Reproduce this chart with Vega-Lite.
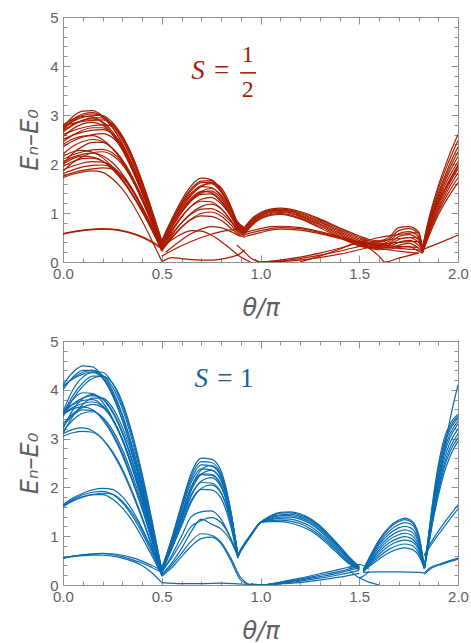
{
  "$schema": "https://vega.github.io/schema/vega-lite/v6.json",
  "background": "white",
  "padding": {"left": 18, "top": 9, "right": 10, "bottom": 4},
  "spacing": 12,
  "config": {
    "view": {"stroke": "#8f8f8f", "strokeWidth": 1},
    "axis": {
      "domain": false, "grid": false, "labelFlush": false, "labelOverlap": false,
      "labelFont": "Liberation Sans", "labelFontSize": 15, "labelColor": "#606060",
      "tickColor": "#8f8f8f", "tickWidth": 1,
      "titleFont": "DejaVu Sans", "titleFontSize": 24, "titleFontStyle": "italic",
      "titleFontWeight": "normal", "titleColor": "#606060"
    }
  },
  "datasets": {
    "half": [
      {"c":"a1","t":[0,0.05,0.1,0.15,0.2,0.25,0.3,0.35,0.4,0.45,0.5],"e":[2.75,2.97,3.08,3.09,2.98,2.76,2.42,2.00,1.50,0.95,0.38]},
      {"c":"a2","t":[0,0.05,0.1,0.15,0.2,0.25,0.3,0.35,0.4,0.45,0.5],"e":[2.80,2.92,2.99,3.02,2.98,2.80,2.49,2.07,1.57,1.00,0.40]},
      {"c":"a3","t":[0,0.05,0.1,0.15,0.2,0.25,0.3,0.35,0.4,0.45,0.5],"e":[2.70,2.88,2.97,2.96,2.84,2.61,2.29,1.88,1.41,0.90,0.36]},
      {"c":"a4","t":[0,0.05,0.1,0.15,0.2,0.25,0.3,0.35,0.4,0.45,0.5],"e":[2.65,2.79,2.89,2.94,2.94,2.80,2.52,2.12,1.61,1.03,0.42]},
      {"c":"a5","t":[0,0.05,0.1,0.15,0.2,0.25,0.3,0.35,0.4,0.45,0.5],"e":[2.78,2.83,2.87,2.89,2.90,2.82,2.57,2.17,1.65,1.05,0.40]},
      {"c":"a6","t":[0,0.05,0.1,0.15,0.2,0.25,0.3,0.35,0.4,0.45,0.5],"e":[2.55,2.72,2.82,2.85,2.79,2.60,2.30,1.90,1.43,0.90,0.34]},
      {"c":"a7","t":[0,0.05,0.1,0.15,0.2,0.25,0.3,0.35,0.4,0.45,0.5],"e":[2.45,2.59,2.69,2.74,2.74,2.61,2.35,1.97,1.50,0.96,0.38]},
      {"c":"a8","t":[0,0.05,0.1,0.15,0.2,0.25,0.3,0.35,0.4,0.45,0.5],"e":[2.60,2.68,2.74,2.78,2.80,2.77,2.55,2.17,1.63,0.99,0.30]},
      {"c":"a9","t":[0,0.05,0.1,0.15,0.2,0.25,0.3,0.35,0.4,0.45,0.5],"e":[2.35,2.47,2.55,2.60,2.62,2.54,2.31,1.95,1.47,0.92,0.32]},
      {"c":"a10","t":[0,0.05,0.1,0.15,0.2,0.25,0.3,0.35,0.4,0.45,0.5],"e":[2.20,2.36,2.46,2.50,2.46,2.32,2.07,1.73,1.31,0.85,0.36]},
      {"c":"a11","t":[0,0.05,0.1,0.15,0.2,0.25,0.3,0.35,0.4,0.45,0.5],"e":[2.15,2.25,2.28,2.24,2.13,1.94,1.69,1.39,1.05,0.67,0.28]},
      {"c":"a12","t":[0,0.05,0.1,0.15,0.2,0.25,0.3,0.35,0.4,0.45,0.5],"e":[2.05,2.14,2.20,2.22,2.17,2.03,1.80,1.50,1.13,0.73,0.30]},
      {"c":"a13","t":[0,0.05,0.1,0.15,0.2,0.25,0.3,0.35,0.4,0.45,0.5],"e":[2.10,2.19,2.25,2.29,2.30,2.23,2.03,1.70,1.28,0.79,0.26]},
      {"c":"a14","t":[0,0.05,0.1,0.15,0.2,0.25,0.3,0.35,0.4,0.45,0.5],"e":[1.95,2.05,2.11,2.12,2.06,1.91,1.68,1.39,1.04,0.65,0.25]},
      {"c":"a15","t":[0,0.05,0.1,0.15,0.2,0.25,0.3,0.35,0.4,0.45,0.5],"e":[1.88,1.96,2.02,2.05,2.04,1.95,1.75,1.47,1.11,0.71,0.28]},
      {"c":"a16","t":[0,0.05,0.1,0.15,0.2,0.25,0.3,0.35,0.4,0.45,0.5],"e":[1.80,1.88,1.94,1.97,1.98,1.92,1.74,1.46,1.10,0.68,0.22]},
      {"c":"a17","t":[0,0.05,0.1,0.15,0.2,0.25,0.3,0.35,0.4,0.45,0.5],"e":[1.75,1.82,1.87,1.90,1.92,1.90,1.75,1.49,1.13,0.71,0.24]},
      {"c":"a18","t":[0,0.05,0.1,0.15,0.2,0.25,0.3,0.35,0.4,0.45,0.5],"e":[1.72,1.79,1.84,1.86,1.83,1.70,1.49,1.20,0.84,0.44,0.02]},
      {"c":"a19","t":[0,0.05,0.1,0.15,0.2,0.25,0.3,0.35,0.4,0.45,0.5],"e":[2.00,2.22,2.36,2.44,2.44,2.32,2.09,1.75,1.33,0.85,0.33]},
      {"c":"a20","t":[0,0.05,0.1,0.15,0.2,0.25,0.3,0.35,0.4,0.45,0.5],"e":[1.85,2.03,2.15,2.23,2.25,2.18,1.99,1.68,1.28,0.81,0.30]},
      {"c":"a21","t":[0,0.05,0.1,0.15,0.2,0.25,0.3,0.35,0.4,0.45,0.5],"e":[2.72,2.91,3.02,3.05,2.96,2.74,2.42,1.99,1.49,0.93,0.35]},
      {"c":"a22","t":[0,0.05,0.1,0.15,0.2,0.25,0.3,0.35,0.4,0.45,0.5],"e":[2.50,2.59,2.65,2.69,2.70,2.62,2.38,1.99,1.49,0.91,0.28]},
      {"c":"a23","t":[0,0.05,0.1,0.15,0.2,0.25,0.3,0.35,0.4,0.45,0.5],"e":[2.68,2.81,2.89,2.92,2.86,2.66,2.36,1.94,1.45,0.91,0.33]},
      {"c":"a24","t":[0,0.05,0.1,0.15,0.2,0.25,0.3,0.35,0.4,0.45,0.5],"e":[2.40,2.51,2.57,2.58,2.50,2.32,2.05,1.69,1.26,0.79,0.30]},
      {"c":"a25","t":[0,0.05,0.1,0.15,0.2,0.25,0.3,0.35,0.4,0.45,0.5],"e":[2.00,2.11,2.16,2.14,2.06,1.89,1.66,1.37,1.03,0.66,0.27]},
      {"c":"a26","t":[0,0.05,0.1,0.15,0.2,0.25,0.3,0.35,0.4,0.45,0.5],"e":[2.76,2.87,2.95,2.99,2.99,2.85,2.57,2.16,1.65,1.06,0.44]},
      {"c":"al1","t":[0,0.05,0.1,0.15,0.2,0.25,0.3,0.35,0.4,0.45,0.5],"e":[0.58,0.62,0.65,0.67,0.68,0.67,0.64,0.59,0.52,0.42,0.30]},
      {"c":"al2","t":[0,0.05,0.1,0.15,0.2,0.25,0.3,0.35,0.4,0.45,0.5],"e":[0.57,0.61,0.64,0.66,0.67,0.66,0.63,0.58,0.50,0.40,0.27]},
      {"c":"b1","t":[0.5,0.55,0.6,0.65,0.7,0.75,0.8,0.85,0.88,0.92],"e":[0.40,0.86,1.26,1.56,1.71,1.68,1.47,1.10,0.84,0.70]},
      {"c":"b2","t":[0.5,0.55,0.6,0.65,0.7,0.75,0.8,0.85,0.88,0.92],"e":[0.38,0.81,1.18,1.46,1.62,1.63,1.44,1.08,0.81,0.67]},
      {"c":"b3","t":[0.5,0.55,0.6,0.65,0.7,0.75,0.8,0.85,0.88,0.92],"e":[0.36,0.76,1.12,1.39,1.56,1.60,1.43,1.07,0.79,0.65]},
      {"c":"b4","t":[0.5,0.55,0.6,0.65,0.7,0.75,0.8,0.85,0.88,0.92],"e":[0.42,0.81,1.16,1.41,1.54,1.52,1.34,1.03,0.81,0.69]},
      {"c":"b5","t":[0.5,0.55,0.6,0.65,0.7,0.75,0.8,0.85,0.88,0.92],"e":[0.34,0.70,1.02,1.28,1.44,1.50,1.37,1.04,0.77,0.63]},
      {"c":"b6","t":[0.5,0.55,0.6,0.65,0.7,0.75,0.8,0.85,0.88,0.92],"e":[0.30,0.70,1.05,1.31,1.44,1.42,1.25,0.97,0.77,0.65]},
      {"c":"b7","t":[0.5,0.55,0.6,0.65,0.7,0.75,0.8,0.85,0.88,0.92],"e":[0.35,0.70,1.01,1.25,1.38,1.39,1.23,0.94,0.72,0.60]},
      {"c":"b8","t":[0.5,0.55,0.6,0.65,0.7,0.75,0.8,0.85,0.88,0.92],"e":[0.28,0.61,0.91,1.14,1.28,1.32,1.19,0.93,0.73,0.61]},
      {"c":"b9","t":[0.5,0.55,0.6,0.65,0.7,0.75,0.8,0.85,0.88,0.92],"e":[0.32,0.64,0.93,1.14,1.24,1.23,1.09,0.85,0.68,0.57]},
      {"c":"b10","t":[0.5,0.55,0.6,0.65,0.7,0.75,0.8,0.85,0.88,0.92],"e":[0.25,0.54,0.80,1.00,1.13,1.18,1.09,0.85,0.66,0.55]},
      {"c":"b11","t":[0.5,0.55,0.6,0.65,0.7,0.75,0.8,0.85,0.88,0.92],"e":[0.30,0.57,0.80,0.98,1.08,1.09,1.00,0.82,0.69,0.59]},
      {"c":"b12","t":[0.5,0.55,0.6,0.65,0.7,0.75,0.8,0.85,0.88,0.92],"e":[0.22,0.48,0.71,0.88,0.99,1.02,0.94,0.76,0.63,0.53]},
      {"c":"b13","t":[0.5,0.55,0.6,0.65,0.7,0.75,0.8,0.85,0.88,0.92],"e":[0.26,0.50,0.71,0.87,0.94,0.93,0.85,0.69,0.59,0.50]},
      {"c":"b14","t":[0.5,0.55,0.6,0.65,0.7,0.75,0.8,0.85,0.88,0.92],"e":[0.40,0.76,1.09,1.36,1.54,1.62,1.52,1.14,0.84,0.68]},
      {"c":"b15","t":[0.5,0.55,0.6,0.65,0.7,0.75,0.8,0.85,0.88,0.92],"e":[0.44,0.86,1.22,1.50,1.65,1.66,1.47,1.10,0.83,0.69]},
      {"c":"b16","t":[0.5,0.55,0.6,0.65,0.7,0.75,0.8,0.85,0.88,0.92],"e":[0.33,0.69,1.01,1.26,1.41,1.45,1.30,0.98,0.74,0.61]},
      {"c":"bl1","t":[0.5,0.55,0.6,0.65,0.7,0.75,0.8,0.85,0.9,0.95],"e":[0.30,0.45,0.57,0.64,0.63,0.55,0.42,0.26,0.10,0]},
      {"c":"bl2","t":[0.5,0.6,0.7,0.8,0.9],"e":[0.12,0.33,0.50,0.62,0.68]},
      {"c":"bl3","t":[0.52,0.6,0.65,0.7,0.75,0.8,0.85,0.9],"e":[0.20,0.45,0.58,0.67,0.72,0.70,0.62,0.52]},
      {"c":"bl4","t":[0.5,0.55,0.6,0.65,0.7,0.75,0.8,0.85,0.9,0.92],"e":[0,0.09,0.07,0.05,0.04,0.04,0.06,0.10,0.18,0.25]},
      {"c":"cd1","t":[0.88,0.92,0.95,0.98,1.0],"e":[0.35,0.20,0.08,0.02,0]},
      {"c":"cu1","t":[0.92,0.95,1.0,1.05,1.1,1.15,1.2,1.3,1.4,1.5,1.55,1.6,1.65,1.7,1.75,1.8,1.82],"e":[0.72,0.86,1.01,1.08,1.10,1.08,1.03,0.88,0.70,0.53,0.46,0.43,0.50,0.70,0.72,0.62,0.30]},
      {"c":"cu2","t":[0.92,0.95,1.0,1.05,1.1,1.15,1.2,1.3,1.4,1.5,1.55,1.6,1.65,1.7,1.75,1.8,1.82],"e":[0.70,0.84,0.99,1.06,1.08,1.06,1.01,0.86,0.68,0.50,0.43,0.40,0.46,0.64,0.68,0.58,0.28]},
      {"c":"cu3","t":[0.92,0.95,1.0,1.05,1.1,1.15,1.2,1.3,1.4,1.5,1.55,1.6,1.65,1.7,1.75,1.8,1.82],"e":[0.68,0.82,0.97,1.04,1.06,1.04,0.99,0.83,0.65,0.47,0.40,0.37,0.42,0.58,0.62,0.52,0.26]},
      {"c":"cu4","t":[0.92,0.95,1.0,1.05,1.1,1.15,1.2,1.3,1.4,1.5,1.55,1.6,1.65,1.7,1.75,1.8,1.82],"e":[0.66,0.80,0.95,1.03,1.05,1.03,0.97,0.81,0.62,0.44,0.37,0.34,0.38,0.52,0.56,0.46,0.25]},
      {"c":"cu5","t":[0.92,0.95,1.0,1.05,1.1,1.15,1.2,1.3,1.4,1.5,1.55,1.6,1.65,1.7,1.75,1.8,1.82],"e":[0.64,0.78,0.94,1.01,1.03,1.01,0.95,0.78,0.59,0.41,0.35,0.32,0.35,0.46,0.50,0.40,0.24]},
      {"c":"cu6","t":[0.92,0.95,1.0,1.05,1.1,1.15,1.2,1.3,1.4,1.5,1.55,1.6,1.65,1.7,1.75,1.8,1.82],"e":[0.62,0.76,0.92,0.99,1.01,0.99,0.93,0.76,0.56,0.38,0.32,0.30,0.32,0.40,0.44,0.34,0.22]},
      {"c":"cu7","t":[0.92,0.95,1.0,1.05,1.1,1.15,1.2,1.3,1.4,1.5,1.55,1.6,1.65,1.7,1.75,1.8,1.82],"e":[0.60,0.74,0.90,0.97,0.99,0.96,0.90,0.73,0.53,0.35,0.30,0.28,0.29,0.34,0.38,0.28,0.20]},
      {"c":"cu8","t":[0.92,0.95,1.0,1.05,1.1,1.15,1.2,1.3,1.4,1.5,1.55,1.6,1.65,1.7,1.75,1.8,1.82],"e":[0.58,0.72,0.88,0.95,0.97,0.94,0.88,0.70,0.50,0.33,0.28,0.25,0.26,0.30,0.32,0.22,0.18]},
      {"c":"cm1","t":[0.92,1.0,1.05,1.1,1.2,1.3,1.4,1.5,1.6,1.7,1.8],"e":[0.60,0.68,0.72,0.73,0.70,0.62,0.52,0.42,0.35,0.32,0.30]},
      {"c":"cm2","t":[0.92,1.0,1.05,1.1,1.2,1.3,1.4,1.5,1.6,1.7,1.8],"e":[0.56,0.64,0.68,0.70,0.68,0.60,0.50,0.40,0.32,0.28,0.25]},
      {"c":"cm3","t":[0.92,1.0,1.05,1.1,1.2,1.3,1.4,1.5,1.6,1.7,1.8],"e":[0.52,0.60,0.65,0.67,0.65,0.58,0.48,0.37,0.28,0.22,0.18]},
      {"c":"cl1","t":[0.97,1.0,1.1,1.2,1.3,1.4,1.5,1.6,1.7,1.8,1.82],"e":[0.05,0,0.04,0.10,0.18,0.28,0.40,0.50,0.56,0.60,0.26]},
      {"c":"cl2","t":[1.0,1.1,1.2,1.3,1.4,1.5,1.6,1.7,1.8,1.82],"e":[0,0.02,0.07,0.14,0.22,0.32,0.42,0.48,0.50,0.24]},
      {"c":"cl3","t":[1.05,1.1,1.2,1.3,1.4,1.5,1.6,1.7,1.8,1.82],"e":[0,0.01,0.04,0.09,0.16,0.25,0.35,0.40,0.42,0.22]},
      {"c":"cl4","t":[1.2,1.3,1.4,1.5,1.55,1.6,1.63,1.7,1.8],"e":[0,0.12,0.26,0.40,0.28,0.12,0,0.08,0.18]},
      {"c":"d1","t":[1.82,1.85,1.9,1.95,2.0],"e":[0.30,0.85,1.55,2.12,2.60]},
      {"c":"d2","t":[1.82,1.85,1.9,1.95,2.0],"e":[0.28,0.80,1.48,2.02,2.48]},
      {"c":"d3","t":[1.82,1.85,1.9,1.95,2.0],"e":[0.26,0.76,1.40,1.92,2.35]},
      {"c":"d4","t":[1.82,1.85,1.9,1.95,2.0],"e":[0.25,0.72,1.35,1.85,2.25]},
      {"c":"d5","t":[1.82,1.85,1.9,1.95,2.0],"e":[0.24,0.70,1.30,1.78,2.15]},
      {"c":"d6","t":[1.82,1.85,1.9,1.95,2.0],"e":[0.22,0.66,1.25,1.70,2.05]},
      {"c":"d7","t":[1.82,1.85,1.9,1.95,2.0],"e":[0.22,0.63,1.18,1.62,1.98]},
      {"c":"d8","t":[1.82,1.85,1.9,1.95,2.0],"e":[0.20,0.60,1.12,1.55,1.90]},
      {"c":"d9","t":[1.82,1.85,1.9,1.95,2.0],"e":[0.20,0.57,1.07,1.48,1.82]},
      {"c":"d10","t":[1.82,1.85,1.9,1.95,2.0],"e":[0.18,0.54,1.02,1.40,1.72]},
      {"c":"d11","t":[1.82,1.85,1.9,1.95,2.0],"e":[0.18,0.50,0.96,1.32,1.62]},
      {"c":"d12","t":[1.82,1.85,1.9,1.95,2.0],"e":[0.25,0.70,1.22,1.60,1.95]},
      {"c":"dl","t":[1.8,1.9,2.0],"e":[0.22,0.38,0.55]}
    ],
    "one": [
      {"c":"u1","t":[0,0.05,0.1,0.15,0.2,0.25,0.3,0.35,0.4,0.45,0.5],"e":[4.10,4.36,4.49,4.47,4.27,3.91,3.39,2.74,1.99,1.16,0.30]},
      {"c":"u2","t":[0,0.05,0.1,0.15,0.2,0.25,0.3,0.35,0.4,0.45,0.5],"e":[4.05,4.24,4.36,4.40,4.30,3.99,3.50,2.85,2.07,1.20,0.28]},
      {"c":"u3","t":[0,0.05,0.1,0.15,0.2,0.25,0.3,0.35,0.4,0.45,0.5],"e":[3.55,4.00,4.26,4.35,4.25,3.95,3.47,2.83,2.07,1.22,0.32]},
      {"c":"u4","t":[0,0.05,0.1,0.15,0.2,0.25,0.3,0.35,0.4,0.45,0.5],"e":[3.50,3.88,4.14,4.28,4.28,4.06,3.62,2.97,2.16,1.23,0.25]},
      {"c":"u5","t":[0,0.05,0.1,0.15,0.2,0.25,0.3,0.35,0.4,0.45,0.5],"e":[3.45,3.81,4.07,4.23,4.28,4.14,3.75,3.11,2.29,1.33,0.30]},
      {"c":"u6","t":[0,0.05,0.1,0.15,0.2,0.25,0.3,0.35,0.4,0.45,0.5],"e":[3.50,3.80,3.94,3.92,3.75,3.42,2.97,2.39,1.72,0.98,0.22]},
      {"c":"u7","t":[0,0.05,0.1,0.15,0.2,0.25,0.3,0.35,0.4,0.45,0.5],"e":[3.20,3.59,3.82,3.90,3.81,3.54,3.11,2.54,1.85,1.09,0.28]},
      {"c":"u8","t":[0,0.05,0.1,0.15,0.2,0.25,0.3,0.35,0.4,0.45,0.5],"e":[3.10,3.46,3.70,3.83,3.83,3.64,3.24,2.67,1.94,1.12,0.24]},
      {"c":"u9","t":[0,0.05,0.1,0.15,0.2,0.25,0.3,0.35,0.4,0.45,0.5],"e":[3.55,3.70,3.78,3.80,3.68,3.40,2.98,2.43,1.78,1.06,0.30]},
      {"c":"u10","t":[0,0.05,0.1,0.15,0.2,0.25,0.3,0.35,0.4,0.45,0.5],"e":[3.50,3.61,3.65,3.59,3.39,3.08,2.66,2.14,1.56,0.92,0.26]},
      {"c":"u11","t":[0,0.05,0.1,0.15,0.2,0.25,0.3,0.35,0.4,0.45,0.5],"e":[3.25,3.48,3.59,3.57,3.42,3.12,2.71,2.18,1.58,0.91,0.22]},
      {"c":"u12","t":[0,0.05,0.1,0.15,0.2,0.25,0.3,0.35,0.4,0.45,0.5],"e":[3.15,3.38,3.52,3.55,3.44,3.18,2.78,2.26,1.65,0.96,0.25]},
      {"c":"u13","t":[0,0.05,0.1,0.15,0.2,0.25,0.3,0.35,0.4,0.45,0.5],"e":[3.10,3.19,3.22,3.16,2.99,2.71,2.34,1.88,1.36,0.79,0.20]},
      {"c":"u14","t":[0,0.05,0.1,0.15,0.2,0.25,0.3,0.35,0.4,0.45,0.5],"e":[3.05,3.12,3.15,3.13,2.99,2.74,2.38,1.92,1.40,0.82,0.22]},
      {"c":"u15","t":[0,0.05,0.1,0.15,0.2,0.25,0.3,0.35,0.4,0.45,0.5],"e":[3.50,3.64,3.72,3.75,3.66,3.41,2.99,2.44,1.79,1.05,0.28]},
      {"c":"u16","t":[0,0.05,0.1,0.15,0.2,0.25,0.3,0.35,0.4,0.45,0.5],"e":[3.30,3.51,3.64,3.70,3.64,3.40,2.99,2.43,1.75,0.99,0.18]},
      {"c":"u17","t":[0,0.05,0.1,0.15,0.2,0.25,0.3,0.35,0.4,0.45,0.5],"e":[4.08,4.22,4.32,4.37,4.36,4.14,3.69,3.05,2.23,1.31,0.32]},
      {"c":"u18","t":[0,0.05,0.1,0.15,0.2,0.25,0.3,0.35,0.4,0.45,0.5],"e":[4.00,4.26,4.40,4.40,4.24,3.89,3.38,2.74,1.98,1.14,0.27]},
      {"c":"u19","t":[0,0.05,0.1,0.15,0.2,0.25,0.3,0.35,0.4,0.45,0.5],"e":[3.52,3.71,3.83,3.88,3.82,3.57,3.15,2.57,1.87,1.09,0.26]},
      {"c":"m1","t":[0,0.05,0.1,0.15,0.2,0.25,0.3,0.35,0.4,0.45,0.5],"e":[1.65,1.78,1.88,1.95,1.98,1.96,1.81,1.54,1.17,0.73,0.25]},
      {"c":"m2","t":[0,0.05,0.1,0.15,0.2,0.25,0.3,0.35,0.4,0.45,0.5],"e":[1.62,1.75,1.85,1.90,1.92,1.86,1.69,1.42,1.07,0.66,0.22]},
      {"c":"m3","t":[0,0.05,0.1,0.15,0.2,0.25,0.3,0.35,0.4,0.45,0.5],"e":[1.62,1.73,1.80,1.85,1.88,1.86,1.72,1.47,1.13,0.72,0.28]},
      {"c":"m4","t":[0,0.05,0.1,0.15,0.2,0.25,0.3,0.35,0.4,0.45,0.5],"e":[1.60,1.72,1.81,1.85,1.85,1.76,1.58,1.32,0.98,0.60,0.20]},
      {"c":"l1","t":[0,0.05,0.1,0.15,0.2,0.25,0.3,0.35,0.4,0.45,0.5],"e":[0.55,0.59,0.62,0.64,0.65,0.64,0.61,0.56,0.49,0.40,0.30]},
      {"c":"l2","t":[0,0.05,0.1,0.15,0.2,0.25,0.3,0.35,0.4,0.45,0.5],"e":[0.55,0.59,0.62,0.63,0.64,0.62,0.58,0.52,0.45,0.36,0.26]},
      {"c":"l3","t":[0,0.05,0.1,0.15,0.2,0.25,0.3,0.35,0.4,0.45,0.5],"e":[0.55,0.58,0.60,0.61,0.61,0.59,0.55,0.49,0.40,0.25,0.05]},
      {"c":"bb1","t":[0.5,0.55,0.6,0.65,0.7,0.75,0.8,0.85,0.885],"e":[0.30,0.95,1.65,2.30,2.60,2.58,2.34,1.51,0.60]},
      {"c":"bb2","t":[0.5,0.55,0.6,0.65,0.7,0.75,0.8,0.85,0.885],"e":[0.32,0.94,1.61,2.24,2.53,2.51,2.28,1.49,0.62]},
      {"c":"bb3","t":[0.5,0.55,0.6,0.65,0.7,0.75,0.8,0.85,0.885],"e":[0.28,0.90,1.56,2.17,2.46,2.44,2.21,1.44,0.58]},
      {"c":"bb4","t":[0.5,0.55,0.6,0.65,0.7,0.75,0.8,0.85,0.885],"e":[0.35,0.92,1.54,2.11,2.38,2.36,2.15,1.43,0.64]},
      {"c":"bb5","t":[0.5,0.55,0.6,0.65,0.7,0.75,0.8,0.85,0.885],"e":[0.30,0.81,1.37,1.94,2.27,2.35,2.14,1.44,0.60]},
      {"c":"bb6","t":[0.5,0.55,0.6,0.65,0.7,0.75,0.8,0.85,0.885],"e":[0.26,0.83,1.43,2.00,2.26,2.25,2.04,1.33,0.56]},
      {"c":"bb7","t":[0.5,0.55,0.6,0.65,0.7,0.75,0.8,0.85,0.885],"e":[0.33,0.80,1.30,1.83,2.13,2.20,2.01,1.38,0.62]},
      {"c":"bb8","t":[0.5,0.55,0.6,0.65,0.7,0.75,0.8,0.85,0.885],"e":[0.28,0.80,1.35,1.86,2.10,2.09,1.90,1.27,0.58]},
      {"c":"bb9","t":[0.5,0.55,0.6,0.65,0.7,0.75,0.8,0.85,0.885],"e":[0.30,0.74,1.21,1.70,1.98,2.05,1.88,1.30,0.60]},
      {"c":"bb10","t":[0.5,0.55,0.6,0.65,0.7,0.75,0.8,0.85,0.885],"e":[0.25,0.73,1.25,1.74,1.96,1.95,1.78,1.19,0.55]},
      {"c":"bb11","t":[0.5,0.55,0.6,0.65,0.7,0.75,0.8,0.85,0.885],"e":[0.30,0.86,1.46,2.02,2.28,2.27,2.06,1.38,0.62]},
      {"c":"bb12","t":[0.5,0.55,0.6,0.65,0.7,0.75,0.8,0.85,0.885],"e":[0.27,0.82,1.40,2.01,2.36,2.45,2.23,1.49,0.60]},
      {"c":"bx1","t":[0.5,0.55,0.6,0.65,0.7,0.75,0.8,0.85,0.885],"e":[0.25,0.60,1.00,1.40,1.50,1.52,1.35,0.95,0.60]},
      {"c":"bx2","t":[0.5,0.55,0.6,0.65,0.7,0.75,0.8,0.85,0.885],"e":[0.28,0.55,0.88,1.20,1.32,1.38,1.28,0.95,0.62]},
      {"c":"bx3","t":[0.5,0.55,0.6,0.65,0.7,0.75,0.8,0.85,0.885],"e":[0.22,0.45,0.75,1.10,1.35,1.25,1.15,0.90,0.58]},
      {"c":"bx4","t":[0.5,0.55,0.6,0.65,0.7,0.75,0.8,0.85,0.9,0.95],"e":[0.20,0.40,0.65,0.90,1.05,1.02,0.88,0.55,0.15,0]},
      {"c":"bx5","t":[0.5,0.55,0.6,0.65,0.7,0.75,0.8,0.85,0.9,0.95],"e":[0.18,0.35,0.58,0.80,0.95,0.98,0.85,0.50,0.10,0]},
      {"c":"bz0","t":[0.5,0.6,0.7,0.8,0.9,1.0],"e":[0.05,0.03,0.03,0.04,0.02,0]},
      {"c":"cc1","t":[0.885,0.9,0.95,1.0,1.05,1.1,1.15,1.2,1.25,1.3,1.35,1.4,1.45,1.5],"e":[0.60,0.72,1.02,1.28,1.42,1.49,1.50,1.46,1.37,1.22,1.02,0.80,0.57,0.38]},
      {"c":"cc2","t":[0.885,0.9,0.95,1.0,1.05,1.1,1.15,1.2,1.25,1.3,1.35,1.4,1.45,1.5],"e":[0.58,0.70,1.00,1.28,1.40,1.47,1.48,1.44,1.35,1.20,1.00,0.78,0.55,0.36]},
      {"c":"cc3","t":[0.885,0.9,0.95,1.0,1.05,1.1,1.15,1.2,1.25,1.3,1.35,1.4,1.45,1.5],"e":[0.62,0.73,1.03,1.28,1.39,1.44,1.45,1.41,1.32,1.17,0.98,0.76,0.54,0.37]},
      {"c":"cc4","t":[0.885,0.9,0.95,1.0,1.05,1.1,1.15,1.2,1.25,1.3,1.35,1.4,1.45,1.5],"e":[0.60,0.71,1.01,1.28,1.37,1.42,1.42,1.38,1.29,1.14,0.95,0.74,0.52,0.35]},
      {"c":"cc5","t":[0.885,0.9,0.95,1.0,1.05,1.1,1.15,1.2,1.25,1.3,1.35,1.4,1.45,1.5],"e":[0.56,0.69,1.00,1.28,1.35,1.39,1.39,1.35,1.26,1.11,0.92,0.71,0.50,0.34]},
      {"c":"cc6","t":[0.885,0.9,0.95,1.0,1.05,1.1,1.15,1.2,1.25,1.3,1.35,1.4,1.45,1.5],"e":[0.60,0.72,1.02,1.28,1.34,1.36,1.35,1.30,1.21,1.06,0.88,0.67,0.47,0.33]},
      {"c":"cc7","t":[0.885,0.9,0.95,1.0,1.05,1.1,1.15,1.2,1.25,1.3,1.35,1.4,1.45,1.5],"e":[0.58,0.70,1.01,1.28,1.32,1.33,1.31,1.26,1.16,1.02,0.84,0.64,0.45,0.32]},
      {"c":"cc8","t":[0.885,0.9,0.95,1.0,1.05,1.1,1.15,1.2,1.25,1.3,1.35,1.4,1.45,1.5],"e":[0.57,0.70,1.00,1.28,1.30,1.30,1.27,1.21,1.12,0.98,0.80,0.61,0.43,0.31]},
      {"c":"cr1","t":[0.95,1.0,1.1,1.2,1.3,1.4,1.45,1.5],"e":[0.03,0,0.06,0.14,0.23,0.32,0.37,0.42]},
      {"c":"cr2","t":[0.95,1.0,1.1,1.2,1.3,1.4,1.45,1.5],"e":[0.02,0,0.05,0.12,0.20,0.28,0.33,0.38]},
      {"c":"cr3","t":[0.95,1.0,1.1,1.2,1.3,1.4,1.45,1.5],"e":[0,0,0.04,0.10,0.17,0.25,0.30,0.35]},
      {"c":"cr4","t":[1.0,1.1,1.2,1.3,1.4,1.5],"e":[0,0.03,0.08,0.14,0.21,0.30]},
      {"c":"cr5","t":[1.05,1.1,1.2,1.3,1.4,1.5],"e":[0,0.02,0.05,0.10,0.16,0.24]},
      {"c":"le1","t":[1.45,1.48,1.5,1.52,1.55],"e":[0.35,0.40,0.42,0.40,0.32]},
      {"c":"le2","t":[1.45,1.48,1.5,1.52,1.55],"e":[0.30,0.20,0.15,0.18,0.28]},
      {"c":"dz","t":[1.5,1.55,1.6],"e":[0.15,0.06,0]},
      {"c":"dd1","t":[1.52,1.55,1.6,1.65,1.7,1.73,1.76,1.8,1.83],"e":[0.30,0.55,0.92,1.18,1.33,1.37,1.33,1.05,0.35]},
      {"c":"dd2","t":[1.52,1.55,1.6,1.65,1.7,1.73,1.76,1.8,1.83],"e":[0.32,0.55,0.90,1.15,1.30,1.34,1.30,1.02,0.36]},
      {"c":"dd3","t":[1.52,1.55,1.6,1.65,1.7,1.73,1.76,1.8,1.83],"e":[0.30,0.52,0.86,1.10,1.24,1.28,1.25,0.98,0.34]},
      {"c":"dd4","t":[1.52,1.55,1.6,1.65,1.7,1.73,1.76,1.8,1.83],"e":[0.28,0.50,0.82,1.04,1.17,1.20,1.17,0.92,0.35]},
      {"c":"dd5","t":[1.52,1.55,1.6,1.65,1.7,1.73,1.76,1.8,1.83],"e":[0.30,0.48,0.77,0.98,1.10,1.13,1.10,0.88,0.36]},
      {"c":"dd6","t":[1.52,1.55,1.6,1.65,1.7,1.73,1.76,1.8,1.83],"e":[0.28,0.45,0.72,0.92,1.03,1.06,1.03,0.82,0.34]},
      {"c":"dd7","t":[1.52,1.55,1.6,1.65,1.7,1.73,1.76,1.8,1.83],"e":[0.30,0.44,0.68,0.86,0.96,0.99,0.96,0.77,0.35]},
      {"c":"dd8","t":[1.52,1.55,1.6,1.65,1.7,1.73,1.76,1.8,1.83],"e":[0.28,0.42,0.63,0.80,0.90,0.92,0.90,0.72,0.34]},
      {"c":"dd9","t":[1.52,1.55,1.6,1.65,1.7,1.73,1.76,1.8,1.83],"e":[0.27,0.40,0.58,0.73,0.82,0.84,0.82,0.66,0.33]},
      {"c":"dd10","t":[1.52,1.55,1.6,1.65,1.7,1.73,1.76,1.8,1.83],"e":[0.28,0.38,0.53,0.66,0.74,0.76,0.74,0.61,0.34]},
      {"c":"ddl","t":[1.52,1.6,1.7,1.8,1.83],"e":[0.26,0.27,0.27,0.26,0.25]},
      {"c":"ee1","t":[1.83,1.85,1.87,1.9,1.93,1.96,2.0],"e":[0.35,0.85,1.35,2.05,2.75,3.40,4.10]},
      {"c":"ee2","t":[1.83,1.85,1.87,1.9,1.93,1.96,2.0],"e":[0.35,1.00,1.65,2.45,3.00,3.30,3.50]},
      {"c":"ee3","t":[1.83,1.85,1.87,1.9,1.93,1.96,2.0],"e":[0.34,0.98,1.60,2.38,2.92,3.24,3.46]},
      {"c":"ee4","t":[1.83,1.85,1.87,1.9,1.93,1.96,2.0],"e":[0.36,0.95,1.55,2.30,2.85,3.18,3.42]},
      {"c":"ee5","t":[1.83,1.85,1.87,1.9,1.93,1.96,2.0],"e":[0.35,0.92,1.50,2.22,2.76,3.10,3.36]},
      {"c":"ee6","t":[1.83,1.85,1.87,1.9,1.93,1.96,2.0],"e":[0.34,0.90,1.45,2.15,2.68,3.02,3.30]},
      {"c":"ee7","t":[1.83,1.85,1.87,1.9,1.93,1.96,2.0],"e":[0.35,0.86,1.40,2.06,2.58,2.92,3.20]},
      {"c":"ee8","t":[1.83,1.85,1.87,1.9,1.93,1.96,2.0],"e":[0.36,0.84,1.35,1.98,2.48,2.82,3.10]},
      {"c":"ee9","t":[1.83,1.85,1.87,1.9,1.93,1.96,2.0],"e":[0.34,0.80,1.28,1.90,2.40,2.74,3.02]},
      {"c":"ee10","t":[1.83,1.85,1.87,1.9,1.93,1.96,2.0],"e":[0.35,0.78,1.24,1.82,2.30,2.64,2.95]},
      {"c":"em1","t":[1.83,1.86,1.9,1.95,2.0],"e":[0.62,0.85,1.10,1.38,1.64]},
      {"c":"em2","t":[1.83,1.86,1.9,1.95,2.0],"e":[0.60,0.80,1.03,1.30,1.56]},
      {"c":"el1","t":[1.83,1.86,1.9,1.95,2.0],"e":[0.25,0.36,0.42,0.49,0.55]},
      {"c":"el2","t":[1.83,1.86,1.9,1.95,2.0],"e":[0.22,0.33,0.40,0.47,0.53]}
    ]
  },
  "vconcat": [
    {
      "width": 395,
      "height": 245,
      "layer": [
        {
          "data": {"name": "half"},
          "transform": [{"flatten": ["t", "e"]}],
          "mark": {"type": "line", "color": "#aa1c00", "strokeWidth": 1.2, "interpolate": "monotone", "clip": true},
          "encoding": {
            "x": {"field": "t", "type": "quantitative", "scale": {"domain": [0, 2], "nice": false, "zero": false},
              "axis": {"orient": "bottom", "values": [0,0.1,0.2,0.3,0.4,0.5,0.6,0.7,0.8,0.9,1,1.1,1.2,1.3,1.4,1.5,1.6,1.7,1.8,1.9,2],
                "labelExpr": "abs(datum.value*2 - round(datum.value*2)) < 0.01 ? format(datum.value, '.1f') : ''",
                "tickSize": {"condition": {"test": "abs(datum.value*2 - round(datum.value*2)) < 0.01", "value": -7}, "value": -4},
                "labelPadding": 11, "title": "θ/π", "titlePadding": 12}},
            "y": {"field": "e", "type": "quantitative", "scale": {"domain": [0, 5], "nice": false},
              "axis": {"orient": "left", "values": [0,0.2,0.4,0.6,0.8,1,1.2,1.4,1.6,1.8,2,2.2,2.4,2.6,2.8,3,3.2,3.4,3.6,3.8,4,4.2,4.4,4.6,4.8,5],
                "labelExpr": "abs(datum.value - round(datum.value)) < 0.01 ? format(datum.value, '.0f') : ''",
                "tickSize": {"condition": {"test": "abs(datum.value - round(datum.value)) < 0.01", "value": -7}, "value": -4},
                "labelPadding": 12, "title": "Eₙ–E₀", "titlePadding": 7}},
            "detail": {"field": "c", "type": "nominal"}
          }
        },
        {
          "data": {"values": [{"t": 0, "e": 0}]},
          "mark": {"type": "point", "opacity": 0},
          "encoding": {
            "x": {"field": "t", "type": "quantitative",
              "axis": {"orient": "top", "values": [0,0.1,0.2,0.3,0.4,0.5,0.6,0.7,0.8,0.9,1,1.1,1.2,1.3,1.4,1.5,1.6,1.7,1.8,1.9,2],
                "labels": false, "title": null,
                "tickSize": {"condition": {"test": "abs(datum.value*2 - round(datum.value*2)) < 0.01", "value": -7}, "value": -4}}},
            "y": {"field": "e", "type": "quantitative",
              "axis": {"orient": "right", "values": [0,0.2,0.4,0.6,0.8,1,1.2,1.4,1.6,1.8,2,2.2,2.4,2.6,2.8,3,3.2,3.4,3.6,3.8,4,4.2,4.4,4.6,4.8,5],
                "labels": false, "title": null,
                "tickSize": {"condition": {"test": "abs(datum.value - round(datum.value)) < 0.01", "value": -7}, "value": -4}}}
          }
        },
        {
          "data": {"values": [{}]},
          "mark": {"type": "text", "text": "S", "font": "Liberation Serif", "fontStyle": "italic", "fontSize": 27, "color": "#aa1c00"},
          "encoding": {"x": {"datum": 0.683, "type": "quantitative", "axis": null}, "y": {"datum": 3.89, "type": "quantitative", "axis": null}}
        },
        {
          "data": {"values": [{}]},
          "mark": {"type": "text", "text": "=", "font": "Liberation Serif", "fontSize": 27, "color": "#aa1c00"},
          "encoding": {"x": {"datum": 0.803, "type": "quantitative", "axis": null}, "y": {"datum": 3.89, "type": "quantitative", "axis": null}}
        },
        {
          "data": {"values": [{}]},
          "mark": {"type": "text", "text": "1", "font": "Liberation Serif", "fontSize": 24, "color": "#aa1c00"},
          "encoding": {"x": {"datum": 0.935, "type": "quantitative", "axis": null}, "y": {"datum": 4.22, "type": "quantitative", "axis": null}}
        },
        {
          "data": {"values": [{}]},
          "mark": {"type": "text", "text": "2", "font": "Liberation Serif", "fontSize": 24, "color": "#aa1c00"},
          "encoding": {"x": {"datum": 0.935, "type": "quantitative", "axis": null}, "y": {"datum": 3.51, "type": "quantitative", "axis": null}}
        },
        {
          "data": {"values": [{}]},
          "mark": {"type": "rule", "color": "#aa1c00", "strokeWidth": 1.6},
          "encoding": {"x": {"datum": 0.897, "type": "quantitative", "axis": null}, "x2": {"datum": 0.977}, "y": {"datum": 3.86, "type": "quantitative", "axis": null}}
        }
      ],
      "resolve": {"axis": {"x": "independent", "y": "independent"}}
    },
    {
      "width": 395,
      "height": 244,
      "layer": [
        {
          "data": {"name": "one"},
          "transform": [{"flatten": ["t", "e"]}],
          "mark": {"type": "line", "color": "#0a6cb1", "strokeWidth": 1.2, "interpolate": "monotone", "clip": true},
          "encoding": {
            "x": {"field": "t", "type": "quantitative", "scale": {"domain": [0, 2], "nice": false, "zero": false},
              "axis": {"orient": "bottom", "values": [0,0.1,0.2,0.3,0.4,0.5,0.6,0.7,0.8,0.9,1,1.1,1.2,1.3,1.4,1.5,1.6,1.7,1.8,1.9,2],
                "labelExpr": "abs(datum.value*2 - round(datum.value*2)) < 0.01 ? format(datum.value, '.1f') : ''",
                "tickSize": {"condition": {"test": "abs(datum.value*2 - round(datum.value*2)) < 0.01", "value": -7}, "value": -4},
                "labelPadding": 11, "title": "θ/π", "titlePadding": 12}},
            "y": {"field": "e", "type": "quantitative", "scale": {"domain": [0, 5], "nice": false},
              "axis": {"orient": "left", "values": [0,0.2,0.4,0.6,0.8,1,1.2,1.4,1.6,1.8,2,2.2,2.4,2.6,2.8,3,3.2,3.4,3.6,3.8,4,4.2,4.4,4.6,4.8,5],
                "labelExpr": "abs(datum.value - round(datum.value)) < 0.01 ? format(datum.value, '.0f') : ''",
                "tickSize": {"condition": {"test": "abs(datum.value - round(datum.value)) < 0.01", "value": -7}, "value": -4},
                "labelPadding": 12, "title": "Eₙ–E₀", "titlePadding": 7}},
            "detail": {"field": "c", "type": "nominal"}
          }
        },
        {
          "data": {"values": [{"t": 0, "e": 0}]},
          "mark": {"type": "point", "opacity": 0},
          "encoding": {
            "x": {"field": "t", "type": "quantitative",
              "axis": {"orient": "top", "values": [0,0.1,0.2,0.3,0.4,0.5,0.6,0.7,0.8,0.9,1,1.1,1.2,1.3,1.4,1.5,1.6,1.7,1.8,1.9,2],
                "labels": false, "title": null,
                "tickSize": {"condition": {"test": "abs(datum.value*2 - round(datum.value*2)) < 0.01", "value": -7}, "value": -4}}},
            "y": {"field": "e", "type": "quantitative",
              "axis": {"orient": "right", "values": [0,0.2,0.4,0.6,0.8,1,1.2,1.4,1.6,1.8,2,2.2,2.4,2.6,2.8,3,3.2,3.4,3.6,3.8,4,4.2,4.4,4.6,4.8,5],
                "labels": false, "title": null,
                "tickSize": {"condition": {"test": "abs(datum.value - round(datum.value)) < 0.01", "value": -7}, "value": -4}}}
          }
        },
        {
          "data": {"values": [{}]},
          "mark": {"type": "text", "text": "S", "font": "Liberation Serif", "fontStyle": "italic", "fontSize": 27, "color": "#17609c"},
          "encoding": {"x": {"datum": 0.70, "type": "quantitative", "axis": null}, "y": {"datum": 4.23, "type": "quantitative", "axis": null}}
        },
        {
          "data": {"values": [{}]},
          "mark": {"type": "text", "text": "=", "font": "Liberation Serif", "fontSize": 27, "color": "#17609c"},
          "encoding": {"x": {"datum": 0.82, "type": "quantitative", "axis": null}, "y": {"datum": 4.23, "type": "quantitative", "axis": null}}
        },
        {
          "data": {"values": [{}]},
          "mark": {"type": "text", "text": "1", "font": "Liberation Serif", "fontSize": 27, "color": "#17609c"},
          "encoding": {"x": {"datum": 0.93, "type": "quantitative", "axis": null}, "y": {"datum": 4.23, "type": "quantitative", "axis": null}}
        }
      ],
      "resolve": {"axis": {"x": "independent", "y": "independent"}}
    }
  ]
}
